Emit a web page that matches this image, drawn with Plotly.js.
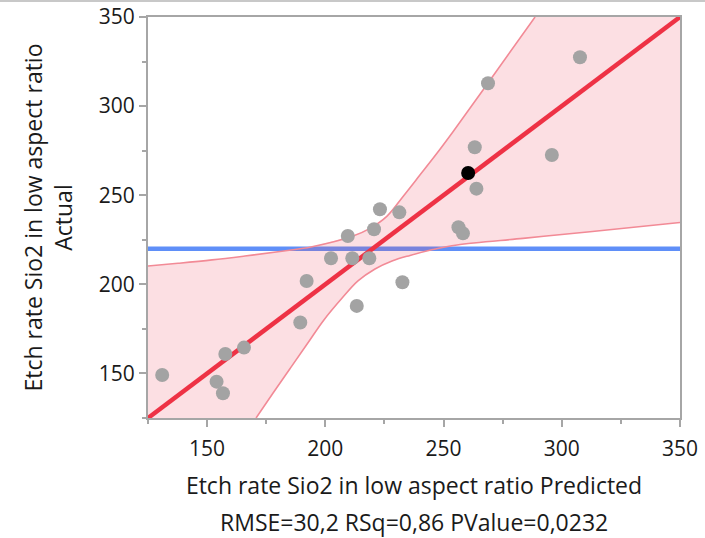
<!DOCTYPE html>
<html>
<head>
<meta charset="utf-8">
<script src="https://cdn.plot.ly/plotly-3.0.1.min.js"></script>
<style>
html,body{margin:0;padding:0;background:#fff;}
#chart{width:705px;height:538px;}
</style>
</head>
<body>
<div id="chart"></div>
<script>
// Observed points: predicted (x) vs actual (y)
const predicted = [223.1, 231.3, 220.6, 209.5, 202.4, 211.4, 218.6, 192.1, 232.6, 213.3, 189.4, 165.6, 157.7, 131.0, 154.0, 156.7, 307.7, 268.8, 263.2, 295.8, 263.9, 256.3, 258.2];
const actual    = [242.1, 240.4, 230.9, 227.1, 214.6, 214.6, 214.6, 201.9, 201.2, 187.9, 178.6, 164.5, 160.9, 149.1, 145.4, 138.9, 327.4, 312.8, 276.9, 272.6, 253.7, 232.0, 228.6];
// Highlighted (selected) row
const selPredicted = [260.4];
const selActual = [262.5];

// Fit line (actual = predicted) and mean of actual
const fitX = [125, 350];
const fitY = [125, 350];
const meanActual = 220.0;

// Confidence curves
const upperX = [125.0, 137.7, 152.1, 166.0, 180.0, 194.4, 211.7, 218.9, 226.1, 232.8, 240.0, 247.2, 254.0, 268.8, 288.7];
const upperY = [210.3, 211.8, 213.7, 215.9, 218.3, 221.1, 227.1, 231.4, 238.3, 249.2, 261.3, 273.5, 285.6, 313.0, 350.0];
const lowerX = [170.7, 177.9, 185.1, 192.3, 199.4, 207.1, 213.8, 221.0, 228.2, 235.8, 245.5, 255.7, 283.6, 311.9, 350.0];
const lowerY = [125.0, 139.0, 152.8, 166.5, 180.0, 192.3, 201.9, 208.6, 213.1, 216.2, 219.5, 222.1, 225.8, 229.5, 234.7];

const axisMin = 125, axisMax = 350;

// band polygon: upper curve, top-right corner, lower curve reversed, bottom-left corner
const bandX = upperX.concat([axisMax], lowerX.slice().reverse(), [axisMin]);
const bandY = upperY.concat([axisMax], lowerY.slice().reverse(), [axisMin]);

const font = "'Open Sans', 'Noto Sans', sans-serif";
const txt = '#1a1a1a';
const gray = '#A6A6A6';

const traces = [
  {x: [axisMin, axisMax], y: [meanActual, meanActual], mode: 'lines',
   line: {color: '#5F8FF8', width: 4.5}, hoverinfo: 'skip'},
  {x: bandX, y: bandY, mode: 'lines', fill: 'toself',
   fillcolor: 'rgba(240,80,100,0.18)', line: {width: 0}, hoverinfo: 'skip'},
  {x: upperX, y: upperY, mode: 'lines', line: {color: '#F28A96', width: 1.6, shape: 'spline', smoothing: 1}, hoverinfo: 'skip'},
  {x: lowerX, y: lowerY, mode: 'lines', line: {color: '#F28A96', width: 1.6, shape: 'spline', smoothing: 1}, hoverinfo: 'skip'},
  {x: fitX, y: fitY, mode: 'lines', line: {color: '#EE3245', width: 4.5}, hoverinfo: 'skip'},
  {x: predicted, y: actual, mode: 'markers', marker: {color: '#A3A3A3', size: 14}},
  {x: selPredicted, y: selActual, mode: 'markers', marker: {color: '#000000', size: 14}}
];

const layout = {
  width: 705, height: 538,
  margin: {l: 148, r: 25, t: 17, b: 120},
  paper_bgcolor: '#ffffff', plot_bgcolor: '#ffffff',
  showlegend: false,
  font: {family: font, size: 21, color: txt},
  xaxis: {
    range: [axisMin, axisMax], dtick: 50, tick0: 150,
    showgrid: false, zeroline: false,
    showline: true, linecolor: gray, linewidth: 2, mirror: true,
    ticks: 'outside', ticklen: 7, tickwidth: 2, tickcolor: gray,
    minor: {dtick: 25, ticks: 'outside', ticklen: 4, tickwidth: 2, tickcolor: gray},
    tickfont: {family: font, size: 21, color: txt},
    ticklabelstandoff: 4,
    title: {text: 'Etch rate Sio2 in low aspect ratio Predicted', font: {family: font, size: 23, color: txt}, standoff: 17}
  },
  yaxis: {
    range: [axisMin, axisMax], dtick: 50, tick0: 150,
    showgrid: false, zeroline: false,
    showline: true, linecolor: gray, linewidth: 2, mirror: true,
    ticks: 'outside', ticklen: 7, tickwidth: 2, tickcolor: gray,
    minor: {dtick: 25, ticks: 'outside', ticklen: 4, tickwidth: 2, tickcolor: gray},
    tickfont: {family: font, size: 21, color: txt},
    title: {text: 'Etch rate Sio2 in low aspect ratio<br>Actual', font: {family: font, size: 23, color: txt}, standoff: 20}
  },
  annotations: [{
    text: 'RMSE=30,2 RSq=0,86 PValue=0,0232', xref: 'paper', yref: 'paper',
    x: (414 - 148) / 532, y: -(522 - 418) / 401, xanchor: 'center', yanchor: 'middle',
    showarrow: false, font: {family: font, size: 23, color: txt}
  }],
  shapes: [{
    type: 'line', xref: 'paper', yref: 'paper',
    x0: -148 / 532, x1: 1 + 25 / 532, y0: 1 + 16 / 401, y1: 1 + 16 / 401,
    line: {color: '#C8C8C8', width: 2}
  }]
};

Plotly.newPlot('chart', traces, layout, {displayModeBar: false, staticPlot: true});
</script>
</body>
</html>
